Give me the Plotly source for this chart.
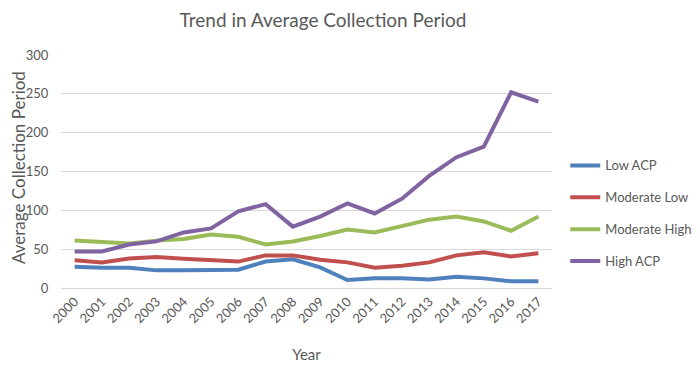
import plotly.graph_objects as go

years = [str(y) for y in range(2000, 2018)]
low_acp = [27.4, 26, 26, 22.7, 22.7, 23.6, 23.6, 34, 37, 26.6, 10.3, 12.4, 12.4, 11, 14.6, 12.4, 8.6, 8.6]
moderate_low = [35.6, 33, 38, 40, 37.7, 36.4, 34, 42, 42, 36.4, 33, 26, 28.7, 33, 42, 46, 40.7, 44.6]
moderate_high = [61, 59.6, 57.4, 61, 63, 69, 66, 56, 60, 67, 75.4, 71.6, 79.3, 88, 92, 85.7, 73.7, 92]
high_acp = [47, 47, 56, 60, 71.5, 76.7, 98.6, 108, 79, 92, 109, 96, 115, 144.4, 168.4, 182, 252, 240]

series = [
    ("Low ACP", low_acp, "#4F81BD"),
    ("Moderate Low", moderate_low, "#C0504D"),
    ("Moderate High", moderate_high, "#9BBB59"),
    ("High ACP", high_acp, "#8064A2"),
]

y_title = "Average Collection Period"
x_title = "Year"
chart_title = "Trend in Average Collection Period"

FONT = "Lato, Carlito, Calibri, sans-serif"
GREY = "#595959"

fig = go.Figure()
for name, vals, color in series:
    fig.add_trace(go.Scatter(
        x=years, y=vals, name=name, mode="lines", legendgroup=name,
        line=dict(color=color, width=4, shape="linear"),
    ))

# page body has an 8px default margin, so the figure is offset by (8, 8)
fig.update_layout(
    width=700, height=362,
    margin=dict(l=53, r=156, t=47, b=82, autoexpand=False),
    paper_bgcolor="white", plot_bgcolor="white",
    font=dict(family=FONT, color=GREY, size=13),
    title=dict(text=chart_title, x=315 / 700, xanchor="center",
               y=0.967, yanchor="middle", font=dict(size=19, color=GREY, family=FONT)),
    showlegend=True,
    legend=dict(x=1.027, xanchor="left", y=0.32, yanchor="middle",
                font=dict(size=13, color=GREY, family=FONT),
                tracegroupgap=12, itemwidth=30, bgcolor="rgba(0,0,0,0)"),
    xaxis=dict(type="category", range=[-0.5, 17.5], tickangle=-45, automargin=False,
               showgrid=False, showline=True, linecolor="#D9D9D9", linewidth=1,
               ticks="", tickfont=dict(size=13, color=GREY),
               title=dict(text=x_title, font=dict(size=15, color=GREY), standoff=24)),
    yaxis=dict(range=[0, 300], dtick=50, showgrid=True, gridcolor="#D9D9D9",
               gridwidth=1, zeroline=False, showline=False, automargin=False,
               ticks="outside", ticklen=9, tickcolor="rgba(0,0,0,0)",
               tickfont=dict(size=13, color=GREY)),
    annotations=[dict(text=y_title, textangle=-90, showarrow=False,
                      xref="paper", yref="paper", x=-0.0876, y=0.519,
                      xanchor="center", yanchor="middle",
                      font=dict(size=17, color=GREY, family=FONT))],
)

fig.write_html("out.html")
